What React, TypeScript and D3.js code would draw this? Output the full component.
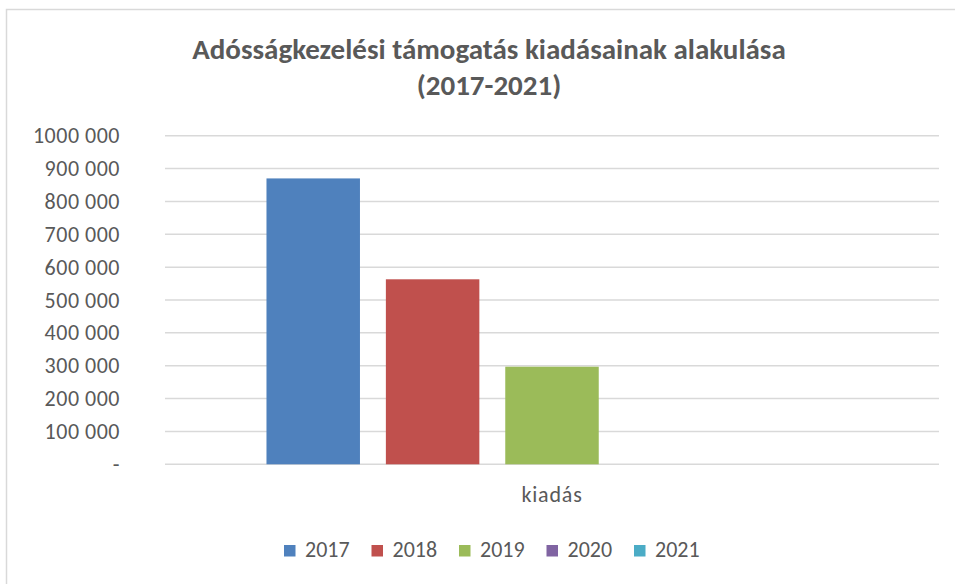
import React from "react";
import * as d3 from "d3";

const categories = ["kiadás"];
const years = ["2017", "2018", "2019", "2020", "2021"];
const values = [870000, 563000, 297000, 0, 0];
const colors = ["#4F81BD", "#C0504D", "#9BBB59", "#8064A2", "#4BACC6"];
const yTicks = [0, 100000, 200000, 300000, 400000, 500000, 600000, 700000, 800000, 900000, 1000000];
const titleLines = ["Adósságkezelési támogatás kiadásainak alakulása", "(2017-2021)"];

const FONT = "Carlito, Calibri, Lato, sans-serif";
const W = 955;
const H = 584;
const plot = { left: 165, right: 939, top: 135.7, bottom: 464.3 };

function fmt(v: number): string {
  if (v === 0) return "-";
  const s = String(v);
  const last = s.slice(-3);
  const first = s.slice(0, -3);
  return `${first} ${last}`;
}

export default function App() {
  const y = d3.scaleLinear().domain([0, 1000000]).range([plot.bottom, plot.top]);
  const x0 = d3.scaleBand().domain(categories).range([plot.left, plot.right]).padding(0);
  const x1 = d3
    .scaleBand()
    .domain(years)
    .range([0, x0.bandwidth()])
    .paddingInner(0.217)
    .paddingOuter(0.85);

  const legendStep = 87.5;
  const legendStart = 284;

  return (
    <svg
      width={W}
      height={H}
      style={{ position: "absolute", left: 0, top: 0, background: "#fff" }}
      fontFamily={FONT}
    >
      <rect x={0} y={0} width={W} height={H} fill="#fff" />
      <rect x={6.5} y={9.5} width={1000} height={1000} fill="#fff" stroke="#d9d9d9" strokeWidth={1.5} />

      {titleLines.map((t, i) => (
        <text
          key={i}
          x={(188 + 790) / 2}
          y={59 + i * 36}
          textAnchor="middle"
          fontSize={29}
          fontWeight="bold"
          fill="#595959"
        >
          {t}
        </text>
      ))}

      {yTicks.map((t) => (
        <g key={t}>
          <line
            x1={plot.left}
            x2={plot.right}
            y1={y(t)}
            y2={y(t)}
            stroke="#d9d9d9"
            strokeWidth={1.5}
          />
          <text
            x={120}
            y={y(t) + 7.5}
            textAnchor="end"
            fontSize={22}
            letterSpacing={0.5}
            fill="#595959"
          >
            {fmt(t)}
          </text>
        </g>
      ))}

      {categories.map((c) => (
        <g key={c} transform={`translate(${x0(c)},0)`}>
          {years.map((yr, i) =>
            values[i] > 0 ? (
              <rect
                key={yr}
                x={x1(yr)}
                y={y(values[i])}
                width={x1.bandwidth()}
                height={y(0) - y(values[i])}
                fill={colors[i]}
              />
            ) : null
          )}
          <text
            x={x0.bandwidth() / 2}
            y={502}
            textAnchor="middle"
            fontSize={22}
            letterSpacing={0.8}
            fill="#595959"
          >
            {c}
          </text>
        </g>
      ))}

      {years.map((yr, i) => (
        <g key={yr} transform={`translate(${legendStart + i * legendStep},0)`}>
          <rect x={0} y={545} width={11.5} height={11.5} fill={colors[i]} />
          <text x={21} y={557} fontSize={22} fill="#595959">
            {yr}
          </text>
        </g>
      ))}
    </svg>
  );
}
